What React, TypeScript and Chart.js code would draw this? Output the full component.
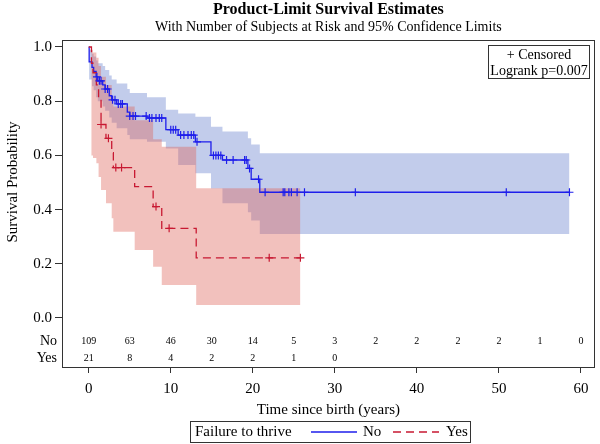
import React, { useEffect, useRef } from "react";
import { Chart, registerables } from "chart.js";

Chart.register(...registerables);

const FONT = "'Liberation Serif', 'Times New Roman', serif";

// ---- Failure to thrive = No (blue) ----
const noTime = [0, 0.05, 0.4, 0.6, 0.9, 1.1, 1.7, 2.0, 2.5, 2.8, 3.4, 4.7, 5.0, 7.1, 9.4, 10.9, 13.0, 14.9, 16.3, 19.4, 19.8, 20.85, 58.6];
const noSurv = [1.0, 0.945, 0.925, 0.91, 0.89, 0.875, 0.86, 0.845, 0.82, 0.805, 0.79, 0.76, 0.745, 0.738, 0.695, 0.675, 0.65, 0.6, 0.583, 0.552, 0.512, 0.464, 0.464];
const noUpper = [1.0, 0.99, 0.975, 0.965, 0.95, 0.94, 0.93, 0.915, 0.895, 0.88, 0.865, 0.845, 0.83, 0.815, 0.768, 0.755, 0.743, 0.706, 0.688, 0.663, 0.64, 0.608, 0.608];
const noLower = [1.0, 0.88, 0.855, 0.84, 0.815, 0.8, 0.78, 0.765, 0.74, 0.72, 0.7, 0.675, 0.66, 0.65, 0.625, 0.565, 0.534, 0.478, 0.423, 0.39, 0.36, 0.31, 0.31];
const noCensor = [1.0, 1.3, 1.5, 2.0, 2.3, 2.9, 3.2, 3.6, 3.9, 4.1, 5.0, 5.4, 5.7, 7.0, 7.4, 7.7, 8.2, 8.6, 8.9, 10.0, 10.3, 10.6, 11.2, 11.6, 12.1, 12.5, 12.8, 13.2, 15.2, 15.5, 15.8, 16.1, 16.8, 17.6, 19.0, 19.2, 19.6, 20.7, 21.5, 23.7, 23.9, 24.4, 24.7, 25.4, 26.3, 32.5, 50.9, 58.6];

// ---- Failure to thrive = Yes (red) ----
const yesTime = [0, 0.33, 0.52, 0.93, 1.2, 1.5, 2.1, 2.8, 3.0, 5.6, 7.85, 8.9, 13.1, 25.8];
const yesSurv = [1.0, 0.94, 0.905, 0.86, 0.81, 0.714, 0.663, 0.61, 0.555, 0.485, 0.411, 0.331, 0.222, 0.222];
const yesUpper = [1.0, 0.99, 0.98, 0.96, 0.93, 0.89, 0.86, 0.82, 0.78, 0.73, 0.66, 0.632, 0.479, 0.479];
const yesLower = [1.0, 0.6, 0.59, 0.571, 0.52, 0.472, 0.423, 0.368, 0.318, 0.251, 0.189, 0.122, 0.048, 0.048];
const yesCensor = [1.5, 2.4, 3.3, 4.0, 8.2, 9.8, 22.0, 25.8];

// ---- At-risk table ----
const riskTimes = [0, 5, 10, 15, 20, 25, 30, 35, 40, 45, 50, 55, 60];
const noRisk = [109, 63, 46, 30, 14, 5, 3, 2, 2, 2, 2, 1, 0];
const yesRisk = [21, 8, 4, 2, 2, 1, 0];

const xTicks = [0, 10, 20, 30, 40, 50, 60];
const yTicks = [0, 0.2, 0.4, 0.6, 0.8, 1.0];

const BLUE = "rgb(30,30,235)";
const RED = "rgb(200,25,50)";
const BLUE_BAND = "rgba(102,127,204,0.4)";
const RED_BAND = "rgba(222,100,90,0.4)";

function stepValue(times: number[], vals: number[], t: number) {
  let v = vals[0];
  for (let i = 0; i < times.length; i++) if (times[i] <= t) v = vals[i];
  return v;
}
const pts = (times: number[], vals: number[]) => times.map((t, i) => ({ x: t, y: vals[i] }));
const censorPts = (c: number[], times: number[], vals: number[]) => c.map((t) => ({ x: t, y: stepValue(times, vals, t) }));

export default function App() {
  const ref = useRef<HTMLCanvasElement>(null);
  useEffect(() => {
    const canvas = ref.current!;
    const overlay = {
      id: "overlay",
      afterDraw(chart: any) {
        const { ctx, chartArea: a } = chart;
        const x = chart.scales.x;
        ctx.save();
        // frame
        ctx.strokeStyle = "#333";
        ctx.lineWidth = 1;
        ctx.strokeRect(Math.round(a.left) + 0.5, Math.round(a.top) + 0.5, Math.round(a.right - a.left) - 1, Math.round(a.bottom - a.top) - 1);
        ctx.fillStyle = "#000";
        // titles
        const cx = (a.left + a.right) / 2;
        ctx.textAlign = "center";
        ctx.textBaseline = "middle";
        ctx.font = `bold 16px ${FONT}`;
        ctx.fillText("Product-Limit Survival Estimates", cx, 10);
        ctx.font = `14px ${FONT}`;
        ctx.fillText("With Number of Subjects at Risk and 95% Confidence Limits", cx, 27);
        // y axis title
        ctx.save();
        ctx.translate(13, 182);
        ctx.rotate(-Math.PI / 2);
        ctx.font = `15px ${FONT}`;
        ctx.fillText("Survival Probability", 0, 0);
        ctx.restore();
        // at-risk table
        ctx.font = `14px ${FONT}`;
        ctx.textAlign = "right";
        ctx.fillText("No", 57, 341);
        ctx.fillText("Yes", 57, 358);
        ctx.font = `10px ${FONT}`;
        ctx.textAlign = "center";
        noRisk.forEach((n, i) => ctx.fillText(String(n), x.getPixelForValue(riskTimes[i]), 341));
        yesRisk.forEach((n, i) => ctx.fillText(String(n), x.getPixelForValue(riskTimes[i]), 358));
        // inset box
        ctx.strokeStyle = "#333";
        ctx.strokeRect(488.5, 45.5, 101, 33);
        ctx.font = `14px ${FONT}`;
        ctx.fillText("+ Censored", 539, 55);
        ctx.fillText("Logrank p=0.007", 539, 71);
        // legend
        ctx.font = `15px ${FONT}`;
        ctx.strokeRect(190.5, 421.5, 280, 21);
        ctx.textAlign = "left";
        ctx.fillText("Failure to thrive", 195, 432);
        ctx.lineWidth = 1.3;
        ctx.strokeStyle = BLUE;
        ctx.beginPath();
        ctx.moveTo(311, 432);
        ctx.lineTo(357, 432);
        ctx.stroke();
        ctx.fillText("No", 363, 432);
        ctx.strokeStyle = RED;
        ctx.setLineDash([8, 5]);
        ctx.beginPath();
        ctx.moveTo(393, 432);
        ctx.lineTo(439, 432);
        ctx.stroke();
        ctx.setLineDash([]);
        ctx.fillText("Yes", 446, 432);
        ctx.restore();
      },
    };

    const band = (times: number[], vals: number[], color: string | false, order: number) => ({
      data: pts(times, vals),
      stepped: "before" as const,
      borderWidth: 0,
      borderColor: "transparent",
      pointRadius: 0,
      fill: color ? "+1" : false,
      backgroundColor: color || "transparent",
      order,
    });

    const chart = new Chart(canvas, {
      type: "line",
      data: {
        datasets: [
          { ...band(yesTime, yesUpper, RED_BAND, 2) },
          { ...band(yesTime, yesLower, false, 2) },
          { ...band(noTime, noUpper, BLUE_BAND, 3) },
          { ...band(noTime, noLower, false, 3) },
          {
            data: pts(yesTime, yesSurv),
            stepped: "before",
            borderColor: RED,
            borderWidth: 1.3,
            borderDash: [8, 5],
            pointRadius: 0,
            fill: false,
            order: 1,
          },
          {
            data: pts(noTime, noSurv),
            stepped: "before",
            borderColor: BLUE,
            borderWidth: 1.3,
            pointRadius: 0,
            fill: false,
            order: 1,
          },
          {
            data: censorPts(yesCensor, yesTime, yesSurv),
            showLine: false,
            pointStyle: "cross",
            pointRadius: 4,
            pointBorderWidth: 1.2,
            pointBorderColor: RED,
            borderColor: RED,
            order: 0,
          },
          {
            data: censorPts(noCensor, noTime, noSurv),
            showLine: false,
            pointStyle: "cross",
            pointRadius: 4,
            pointBorderWidth: 1.2,
            pointBorderColor: BLUE,
            borderColor: BLUE,
            order: 0,
          },
        ] as any,
      },
      options: {
        responsive: false,
        animation: false,
        devicePixelRatio: 1,
        layout: { padding: { top: 40, right: 0, bottom: 24, left: 0 } },
        plugins: { legend: { display: false }, tooltip: { enabled: false }, title: { display: false } },
        scales: {
          x: {
            type: "linear",
            min: -3.26,
            max: 61.69,
            afterBuildTicks: (s: any) => {
              s.ticks = xTicks.map((v) => ({ value: v }));
            },
            afterFit: (s: any) => {
              s.height = 52;
            },
            ticks: { font: { family: FONT, size: 15 }, color: "#000", padding: 7, maxRotation: 0, autoSkip: false },
            grid: { drawOnChartArea: false, drawTicks: true, tickLength: 5, color: "#333" },
            border: { display: false },
            title: {
              display: true,
              text: "Time since birth (years)",
              font: { family: FONT, size: 15 },
              color: "#000",
              padding: { top: 0, bottom: 1 },
            },
          },
          y: {
            type: "linear",
            min: -0.1845,
            max: 1.0258,
            afterBuildTicks: (s: any) => {
              s.ticks = yTicks.map((v) => ({ value: v }));
            },
            afterFit: (s: any) => {
              s.width = 62;
            },
            ticks: {
              font: { family: FONT, size: 15 },
              color: "#000",
              padding: 3,
              callback: (v: any) => Number(v).toFixed(1),
            },
            grid: { drawOnChartArea: false, drawTicks: true, tickLength: 7, color: "#333" },
            border: { display: false },
          },
        },
      } as any,
      plugins: [overlay],
    });
    return () => chart.destroy();
  }, []);
  return (
    <div style={{ position: "absolute", left: 0, top: 0, width: 600, height: 444, background: "#fff" }}>
      <canvas ref={ref} width={600} height={444} style={{ width: 600, height: 444, display: "block" }} />
    </div>
  );
}
